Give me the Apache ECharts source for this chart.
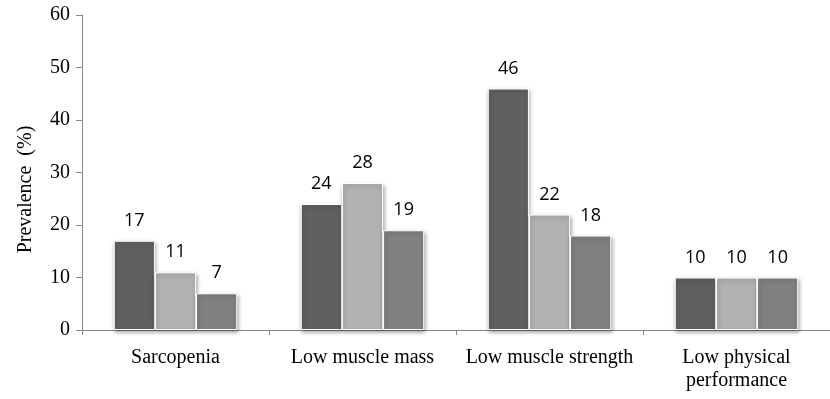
<!DOCTYPE html>
<html><head><meta charset="utf-8">
<script src="https://cdn.jsdelivr.net/npm/echarts@6/dist/echarts.min.js"></script>
<style>html,body{margin:0;padding:0;background:#fff}#c{width:830px;height:399px}</style>
</head><body><div id="c"></div>
<script>
var categories = ['Sarcopenia', 'Low muscle mass', 'Low muscle strength', 'Low physical\nperformance'];
var series1 = [17, 24, 46, 10];
var series2 = [11, 28, 22, 10];
var series3 = [7, 19, 18, 10];
var yTicks = [0, 10, 20, 30, 40, 50, 60];
var colors = ['#606060', '#b2b2b2', '#808080'];
var serif = 'Liberation Serif, Times New Roman, serif';

function mk(data, color) {
  return {
    type: 'bar', data: data, barGap: '0%', barCategoryGap: '34%',
    itemStyle: {color: color, borderColor: '#fff', borderWidth: 1,
      shadowColor: 'rgba(0,0,0,0.35)', shadowBlur: 4, shadowOffsetX: 1, shadowOffsetY: 2},
    label: {show: true, position: 'top', distance: 11, color: '#000',
      fontFamily: 'Open Sans, Liberation Sans, sans-serif', fontSize: 18}
  };
}
var chart = echarts.init(document.getElementById('c'));
chart.setOption({
  animation: false,
  grid: {left: 82, right: -10, top: 15, bottom: 69},
  xAxis: {type: 'category', data: categories,
    axisLine: {lineStyle: {color: '#888'}},
    axisTick: {show: true, length: 5, lineStyle: {color: '#888'}},
    axisLabel: {interval: 0, color: '#000', fontFamily: serif, fontSize: 20, margin: 16, lineHeight: 23}
  },
  yAxis: {type: 'value', min: yTicks[0], max: yTicks[yTicks.length - 1], interval: 10,
    name: 'Prevalence  (%)', nameLocation: 'middle', nameGap: 46, nameRotate: 90,
    nameTextStyle: {color: '#000', fontFamily: serif, fontSize: 20, padding: [0, 34, 0, 0]},
    axisLine: {show: true, lineStyle: {color: '#888'}},
    axisTick: {show: true, length: 6, lineStyle: {color: '#888'}},
    splitLine: {show: false},
    axisLabel: {color: '#000', fontFamily: serif, fontSize: 20, margin: 12}
  },
  series: [mk(series1, colors[0]), mk(series2, colors[1]), mk(series3, colors[2])]
});
</script></body></html>
